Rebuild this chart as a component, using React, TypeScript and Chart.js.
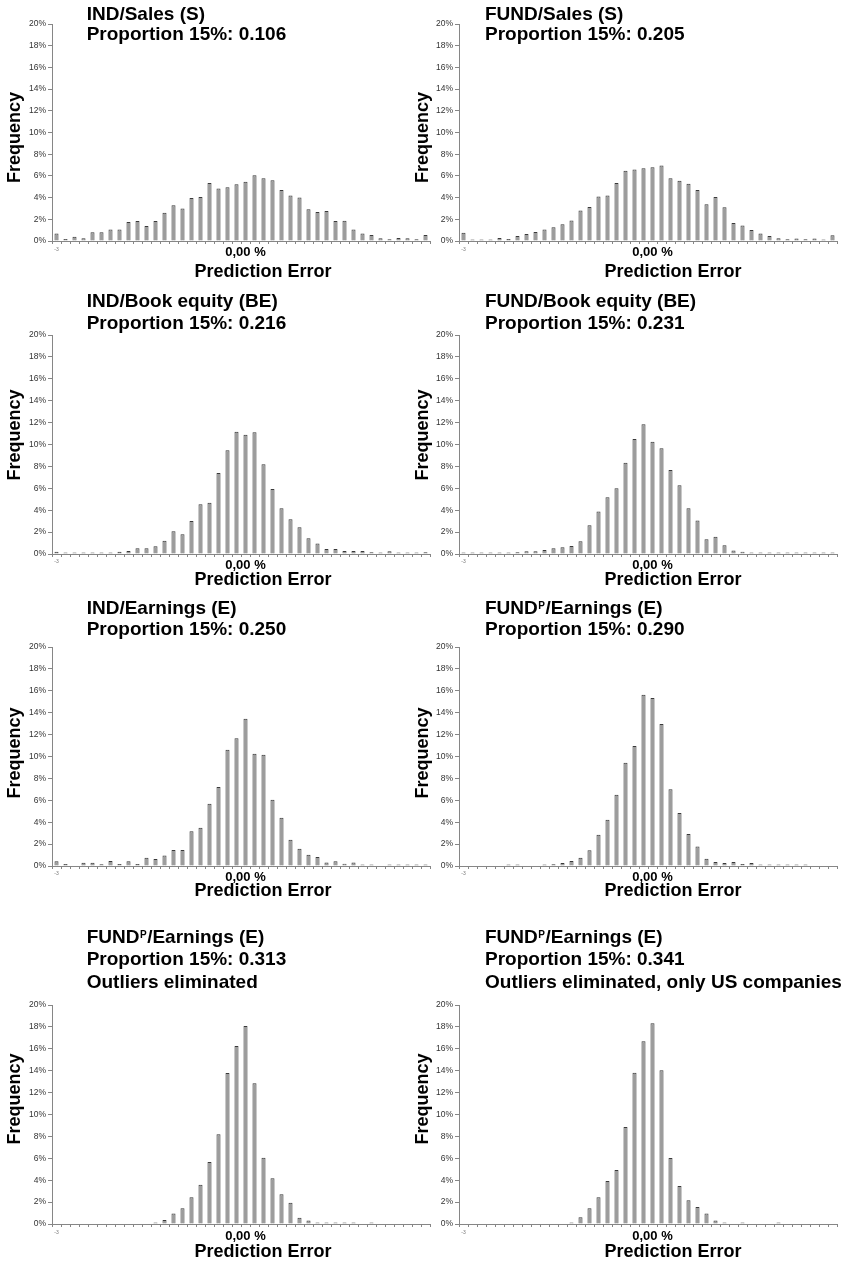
import React, { useEffect, useRef } from "react";
import { Chart, registerables } from "chart.js";

Chart.register(...registerables);

const FONT = '"Liberation Sans", Arial, Helvetica, sans-serif';
Chart.defaults.font.family = FONT;

// ---------- DATA ----------
// 42 histogram bins of the prediction error; only two bins carry a visible label
const xTickLabels = [
  "-3", "", "", "", "", "", "", "", "", "", "",
  "", "", "", "", "", "", "", "", "", "",
  "0,00 %", "", "", "", "", "", "", "", "", "",
  "", "", "", "", "", "", "", "", "", "", "",
];

const yTickValues = [0, 2, 4, 6, 8, 10, 12, 14, 16, 18, 20];

// frequency in percent per bin
const indSales = [
  0.7, 0.18, 0.4, 0.25, 0.8, 0.8, 1.05, 1.07, 1.75, 1.84,
  1.38, 1.84, 2.6, 3.3, 3.0, 3.96, 4.05, 5.35, 4.85, 4.95,
  5.22, 5.47, 6.05, 5.78, 5.6, 4.7, 4.2, 4.02, 2.92, 2.67,
  2.76, 1.84, 1.87, 1.07, 0.7, 0.55, 0.25, 0.15, 0.28, 0.25,
  0.15, 0.55,
];
const fundSales = [
  0.77, 0.12, 0.06, 0.06, 0.28, 0.18, 0.46, 0.65, 0.83, 1.07,
  1.26, 1.54, 1.9, 2.8, 3.13, 4.09, 4.2, 5.35, 6.48, 6.6,
  6.7, 6.79, 6.97, 5.78, 5.56, 5.28, 4.7, 3.38, 4.05, 3.1,
  1.66, 1.44, 1.01, 0.68, 0.46, 0.25, 0.15, 0.22, 0.15, 0.22,
  0.06, 0.52,
];
const indBookEquity = [
  0.2, 0.06, 0.06, 0.1, 0.12, 0.06, 0.12, 0.2, 0.27, 0.52,
  0.52, 0.7, 1.22, 2.07, 1.8, 3.01, 4.54, 4.69, 7.4, 9.47,
  11.17, 10.9, 11.11, 8.19, 5.94, 4.17, 3.17, 2.44, 1.43, 0.97,
  0.46, 0.46, 0.27, 0.27, 0.27, 0.15, 0.09, 0.24, 0.09, 0.09,
  0.06, 0.15,
];
const fundBookEquity = [
  0.06, 0.06, 0.09, 0.06, 0.12, 0.12, 0.15, 0.24, 0.24, 0.37,
  0.52, 0.61, 0.73, 1.16, 2.62, 3.87, 5.18, 6.0, 8.34, 10.5,
  11.84, 10.26, 9.65, 7.67, 6.27, 4.17, 3.07, 1.34, 1.58, 0.79,
  0.33, 0.21, 0.09, 0.06, 0.09, 0.12, 0.09, 0.06, 0.09, 0.06,
  0.06, 0.09,
];
const indEarnings = [
  0.43, 0.18, 0, 0.3, 0.3, 0.15, 0.46, 0.18, 0.43, 0.18,
  0.76, 0.64, 0.97, 1.46, 1.46, 3.17, 3.5, 5.69, 7.21, 10.62,
  11.66, 13.45, 10.26, 10.17, 6.06, 4.41, 2.4, 1.58, 1.03, 0.82,
  0.33, 0.43, 0.21, 0.33, 0.12, 0.12, 0, 0.06, 0.03, 0.03,
  0.03, 0.03,
];
const fundPEarnings = [
  0, 0, 0, 0, 0, 0.03, 0.03, 0, 0, 0.09,
  0.15, 0.27, 0.46, 0.76, 1.43, 2.86, 4.23, 6.51, 9.44, 10.96,
  15.65, 15.34, 12.97, 7.0, 4.84, 2.92, 1.77, 0.67, 0.37, 0.27,
  0.37, 0.18, 0.27, 0.06, 0.06, 0.06, 0.06, 0.06, 0.03, 0,
  0, 0,
];
const fundPEarningsNoOutliers = [
  0, 0, 0, 0, 0, 0, 0, 0, 0, 0,
  0, 0.09, 0.37, 0.97, 1.43, 2.44, 3.59, 5.66, 8.19, 13.79,
  16.26, 18.08, 12.85, 6.06, 4.17, 2.71, 1.95, 0.58, 0.33, 0.12,
  0.09, 0.12, 0.09, 0.03, 0, 0.09, 0, 0, 0, 0,
  0, 0,
];
const fundPEarningsUS = [
  0, 0, 0, 0, 0, 0, 0, 0, 0, 0,
  0, 0, 0.12, 0.61, 1.43, 2.44, 3.93, 4.93, 8.86, 13.82,
  16.68, 18.33, 14.03, 6.03, 3.47, 2.16, 1.55, 0.97, 0.33, 0.12,
  0, 0.09, 0, 0, 0, 0.09, 0, 0, 0, 0,
  0, 0,
];

const panelSeries = [
  indSales, fundSales,
  indBookEquity, fundBookEquity,
  indEarnings, fundPEarnings,
  fundPEarningsNoOutliers, fundPEarningsUS,
];

const panelTitles = [
  ["IND/Sales (S)", "Proportion 15%: 0.106"],
  ["FUND/Sales (S)", "Proportion 15%: 0.205"],
  ["IND/Book equity (BE)", "Proportion 15%: 0.216"],
  ["FUND/Book equity (BE)", "Proportion 15%: 0.231"],
  ["IND/Earnings (E)", "Proportion 15%: 0.250"],
  ["FUND^P/Earnings (E)", "Proportion 15%: 0.290"],
  ["FUND^P/Earnings (E)", "Proportion 15%: 0.313", "Outliers eliminated"],
  ["FUND^P/Earnings (E)", "Proportion 15%: 0.341", "Outliers eliminated, only US companies"],
];

const yAxisTitle = "Frequency";
const xAxisTitle = "Prediction Error";

// ---------- LAYOUT ----------
const Y_AXIS_W = 52;
const PLOT_W = 378;
const X_AXIS_H = 20;

const ROWS = [
  { canvasTop: 0, plotTop: 24, plotBottom: 241, canvasBottom: 284, titleY: [15, 35], freqY: 137.5, tickPad: 2.2, xTitleDy: 30.7 },
  { canvasTop: 284, plotTop: 335, plotBottom: 554, canvasBottom: 592, titleY: [302, 324], freqY: 435, tickPad: 1.5, xTitleDy: 26 },
  { canvasTop: 592, plotTop: 647, plotBottom: 866, canvasBottom: 902, titleY: [608.5, 630], freqY: 753, tickPad: 1.5, xTitleDy: 25 },
  { canvasTop: 902, plotTop: 1005, plotBottom: 1224, canvasBottom: 1262, titleY: [937.5, 959.5, 982.5], freqY: 1099, tickPad: 2.5, xTitleDy: 27.7 },
];
const COLS = [
  { canvasLeft: 0, width: 440, titleX: 86.7, freqX: 14.8, xTitleX: 263 },
  { canvasLeft: 407, width: 442, titleX: 485, freqX: 423, xTitleX: 673 },
];

const BAR_FILL = "#9c9c9c";
const BAR_EDGE = "#3a3a3a";
const AXIS_COLOR = "#868686";

function drawRich(ctx: CanvasRenderingContext2D, text: string, x: number, y: number, size: number) {
  const parts = text.split(/(\^.)/);
  let cx = x;
  for (const p of parts) {
    if (!p) continue;
    if (p.startsWith("^")) {
      const s = p.slice(1);
      ctx.font = `bold ${Math.round(size * 0.55)}px ${FONT}`;
      ctx.textBaseline = "alphabetic";
      ctx.fillText(s, cx + 0.5, y + 0.5);
      cx += ctx.measureText(s).width + 1;
    } else {
      ctx.font = `bold ${size}px ${FONT}`;
      ctx.textBaseline = "middle";
      ctx.fillText(p, cx, y);
      cx += ctx.measureText(p).width;
    }
  }
}

function makeTextPlugin(cfg: {
  lines: string[];
  titleX: number;
  titleYs: number[];
  yTitleX: number;
  yTitleY: number;
  xTitleX: number;
  xTitleDy: number;
}) {
  return {
    id: "panelText",
    afterDraw(chart: any) {
      const { ctx, chartArea } = chart;
      ctx.save();
      ctx.fillStyle = "#000";
      ctx.textAlign = "left";
      cfg.lines.forEach((line, i) => drawRich(ctx, line, cfg.titleX, cfg.titleYs[i], 19));
      ctx.font = `bold 18px ${FONT}`;
      ctx.textAlign = "center";
      ctx.textBaseline = "middle";
      ctx.fillText(xAxisTitle, cfg.xTitleX, chartArea.bottom + cfg.xTitleDy);
      ctx.translate(cfg.yTitleX, cfg.yTitleY);
      ctx.rotate(-Math.PI / 2);
      ctx.fillText(yAxisTitle, 0, 0);
      ctx.restore();
    },
  };
}

function Panel({ idx }: { idx: number }) {
  const ref = useRef<HTMLCanvasElement | null>(null);
  const row = ROWS[Math.floor(idx / 2)];
  const col = COLS[idx % 2];
  const height = row.canvasBottom - row.canvasTop;

  useEffect(() => {
    if (!ref.current) return;
    const chart = new Chart(ref.current, {
      type: "bar",
      data: {
        labels: xTickLabels,
        datasets: [
          {
            // empty bins are left out so that only populated bins get a visible stub
            data: panelSeries[idx].map((v) => (v === 0 ? null : v)),
            backgroundColor: BAR_FILL,
            borderColor: BAR_EDGE,
            borderWidth: 1,
            barPercentage: 0.45,
            categoryPercentage: 1,
            minBarLength: 1.5,
          },
        ],
      },
      options: {
        responsive: false,
        animation: false,
        events: [],
        layout: {
          padding: {
            top: row.plotTop - row.canvasTop,
            bottom: row.canvasBottom - row.plotBottom - X_AXIS_H,
            left: 0,
            right: col.width - Y_AXIS_W - PLOT_W,
          },
        },
        plugins: {
          legend: { display: false },
          tooltip: { enabled: false },
          title: { display: false },
        },
        scales: {
          x: {
            ticks: {
              autoSkip: false,
              maxRotation: 0,
              minRotation: 0,
              padding: row.tickPad,
              font: (c: any) =>
                c.index === 0
                  ? { size: 5, family: FONT }
                  : { size: 13, weight: "bold", family: FONT, lineHeight: 1 },
              color: (c: any) => (c.index === 0 ? "#777" : "#000"),
            },
            grid: { drawOnChartArea: false, tickLength: 3, color: AXIS_COLOR, offset: true },
            border: { color: AXIS_COLOR },
            afterFit: (s: any) => {
              s.height = X_AXIS_H;
            },
          },
          y: {
            min: yTickValues[0],
            max: yTickValues[yTickValues.length - 1],
            ticks: {
              stepSize: yTickValues[1] - yTickValues[0],
              callback: (v: any) => `${v}%`,
              font: { size: 8.5, family: FONT },
              color: "#333",
              padding: 2,
            },
            grid: { drawOnChartArea: false, tickLength: 4, color: AXIS_COLOR },
            border: { color: AXIS_COLOR },
            afterFit: (s: any) => {
              s.width = Y_AXIS_W;
            },
          },
        },
      },
      plugins: [
        makeTextPlugin({
          lines: panelTitles[idx],
          titleX: col.titleX - col.canvasLeft,
          titleYs: row.titleY.map((y) => y - row.canvasTop),
          yTitleX: col.freqX - col.canvasLeft,
          yTitleY: row.freqY - row.canvasTop,
          xTitleX: col.xTitleX - col.canvasLeft,
          xTitleDy: row.xTitleDy,
        }),
      ],
    } as any);
    return () => chart.destroy();
  }, [idx]);

  return (
    <canvas
      ref={ref}
      width={col.width}
      height={height}
      style={{ position: "absolute", left: col.canvasLeft, top: row.canvasTop, width: col.width, height }}
    />
  );
}

export default function App() {
  return (
    <div
      style={{
        position: "absolute",
        left: 0,
        top: 0,
        width: 849,
        height: 1262,
        overflow: "hidden",
        background: "#fff",
      }}
    >
      {panelSeries.map((_, i) => (
        <Panel key={i} idx={i} />
      ))}
    </div>
  );
}
